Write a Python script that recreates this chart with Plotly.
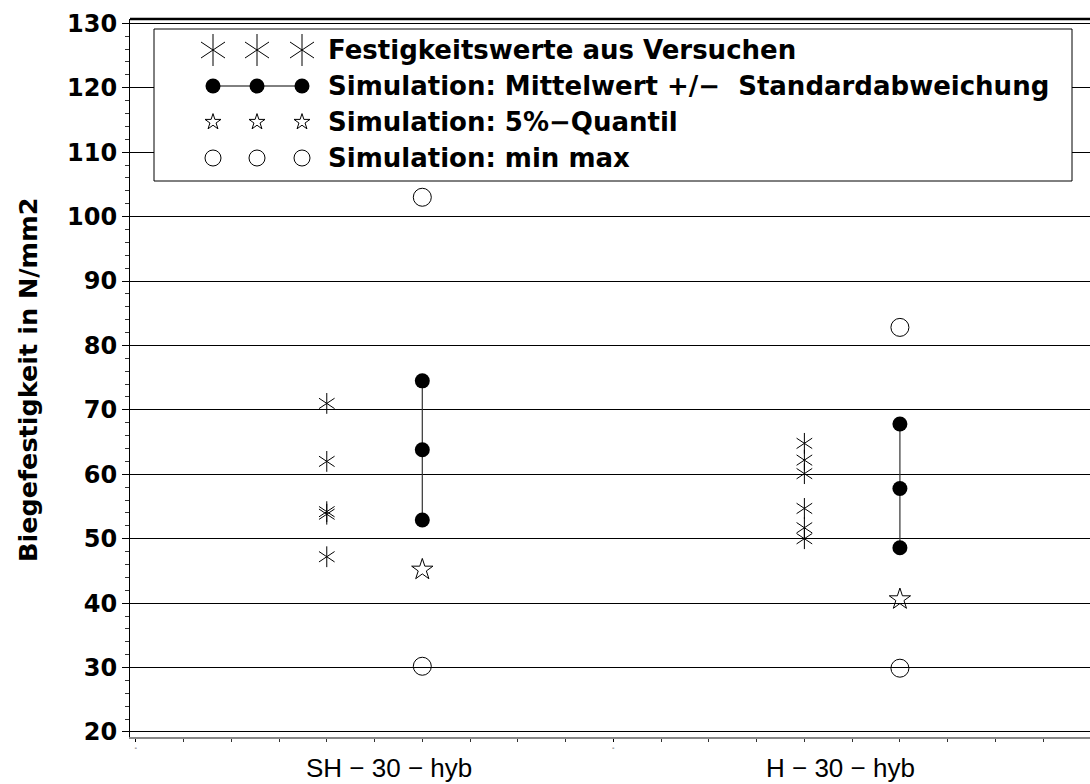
import plotly.graph_objects as go

# ---------------- data ----------------
categories = ["SH \u2212 30 \u2212 hyb", "H \u2212 30 \u2212 hyb"]
category_label_x = [0.53, 1.475]
exp_x = [0.4, 1.4]
sim_x = [0.6, 1.6]
exp_values = [
    [71.0, 62.0, 54.2, 53.8, 47.2],
    [64.8, 62.2, 60.1, 54.7, 51.7, 50.0],
]
sim_upper = [74.5, 67.8]
sim_mean = [63.8, 57.8]
sim_lower = [52.9, 48.6]
sim_q05 = [45.2, 40.6]
sim_min = [30.2, 29.9]
sim_max = [103.0, 82.8]
y_ticks = list(range(20, 131, 10))
legend_labels = [
    "Festigkeitswerte aus Versuchen",
    "Simulation: Mittelwert +/\u2212  Standardabweichung",
    "Simulation: 5%\u2212Quantil",
    "Simulation: min max",
]
y_title = "Biegefestigkeit in N/mm2"

# ---------------- layout constants ----------------
W, H = 1090, 784
L, R, T, B = 130, 0, 19, 47
PLOT_BOTTOM = H - B
BOLD = dict(family="DejaVu Sans", color="black", weight="bold")


def paper_x(px):
    return (px - L) / (W - L - R)


def paper_y(py):
    return (PLOT_BOTTOM - py) / (PLOT_BOTTOM - T)


fig = go.Figure()

# experimental values: six-ray asterisk from two marker symbols
ex, ey = [], []
for xv, vals in zip(exp_x, exp_values):
    for v in vals:
        ex.append(xv)
        ey.append(v)
for sym in ["y-up-open", "y-down-open"]:
    fig.add_trace(go.Scatter(
        x=ex, y=ey, mode="markers",
        marker=dict(symbol=sym, size=13, color="black", line=dict(color="black", width=1)),
    ))

# mean +/- sd
lx, ly = [], []
for i, xv in enumerate(sim_x):
    lx += [xv, xv, xv, None]
    ly += [sim_upper[i], sim_mean[i], sim_lower[i], None]
fig.add_trace(go.Scatter(
    x=lx, y=ly, mode="lines+markers",
    line=dict(color="#333333", width=1.2),
    marker=dict(symbol="circle", size=15, color="black"),
))

# 5% quantile
fig.add_trace(go.Scatter(
    x=sim_x, y=sim_q05, mode="markers",
    marker=dict(symbol="star-open", size=16, color="black", line=dict(color="black", width=1)),
))

# min / max
fig.add_trace(go.Scatter(
    x=sim_x + sim_x, y=sim_min + sim_max, mode="markers",
    marker=dict(symbol="circle-open", size=18, color="black", line=dict(color="black", width=1)),
))

# ---------------- custom legend on a pixel overlay ----------------
box_l, box_r, box_t, box_b = 154, 1072, 29, 181
rows = [50, 86, 122, 158]
sym_x = [213, 257, 302]
text_x = 326

fig.add_trace(go.Scatter(
    x=[box_l, box_r, box_r, box_l, box_l], y=[box_t, box_t, box_b, box_b, box_t],
    mode="lines", fill="toself", fillcolor="white",
    line=dict(color="black", width=1), xaxis="x2", yaxis="y2",
))
for sym in ["y-up-open", "y-down-open"]:
    fig.add_trace(go.Scatter(
        x=sym_x, y=[rows[0]] * 3, mode="markers", xaxis="x2", yaxis="y2",
        marker=dict(symbol=sym, size=20, color="black", line=dict(color="black", width=1)),
    ))
fig.add_trace(go.Scatter(
    x=sym_x, y=[rows[1]] * 3, mode="lines+markers", xaxis="x2", yaxis="y2",
    line=dict(color="black", width=1),
    marker=dict(symbol="circle", size=15, color="black"),
))
fig.add_trace(go.Scatter(
    x=sym_x, y=[rows[2]] * 3, mode="markers", xaxis="x2", yaxis="y2",
    marker=dict(symbol="star-open", size=12, color="black", line=dict(color="black", width=1)),
))
fig.add_trace(go.Scatter(
    x=sym_x, y=[rows[3]] * 3, mode="markers", xaxis="x2", yaxis="y2",
    marker=dict(symbol="circle-open", size=16, color="black", line=dict(color="black", width=1)),
))

annotations = []
for row, label in zip(rows, legend_labels):
    annotations.append(dict(
        x=paper_x(text_x), y=paper_y(row), xref="paper", yref="paper",
        xanchor="left", yanchor="middle", showarrow=False, text=label,
        font=dict(size=26, **BOLD),
    ))
# y title
annotations.append(dict(
    x=paper_x(28), y=paper_y(380), xref="paper", yref="paper",
    xanchor="center", yanchor="middle", showarrow=False, text=y_title,
    textangle=-90, font=dict(size=25.5, **BOLD),
))
# category labels
for cx, lab in zip(category_label_x, categories):
    annotations.append(dict(
        x=cx, y=paper_y(768), xref="x", yref="paper",
        xanchor="center", yanchor="middle", showarrow=False, text=lab,
        font=dict(size=26, family="Liberation Sans", color="black"),
    ))

fig.update_layout(
    width=W, height=H,
    margin=dict(l=L, r=R, t=T, b=B, pad=0),
    paper_bgcolor="white", plot_bgcolor="white",
    showlegend=False, hovermode=False,
    annotations=annotations,
    shapes=[dict(type="line", xref="paper", yref="paper", x0=0, x1=1, y0=1, y1=1,
                 line=dict(color="black", width=2.5), layer="above")],
    xaxis=dict(
        range=[-0.012, 1.998], showgrid=False, zeroline=False,
        showline=True, linecolor="#888888", linewidth=1.5,
        tickmode="array", tickvals=[0, 1, 2], ticktext=["-", "-", "-"],
        ticks="outside", ticklen=3, tickcolor="black", tickwidth=1,
        tickfont=dict(size=7, color="black", family="DejaVu Sans"),
        minor=dict(dtick=0.1, ticks="outside", ticklen=3, tickcolor="#333333", showgrid=False),
        fixedrange=True,
    ),
    yaxis=dict(
        range=[19.22, 130.67], showgrid=True, gridcolor="black", gridwidth=1,
        zeroline=False, showline=True, linecolor="black", linewidth=1,
        tickmode="array", tickvals=y_ticks, ticks="outside", ticklen=7,
        tickcolor="black", tickwidth=1,
        tickfont=dict(size=24, **BOLD),
        minor=dict(dtick=2, ticks="outside", ticklen=4, tickcolor="#333333", showgrid=False),
        fixedrange=True,
    ),
    xaxis2=dict(range=[L, W - R], overlaying="x", visible=False, fixedrange=True),
    yaxis2=dict(range=[PLOT_BOTTOM, T], overlaying="y", visible=False, fixedrange=True),
)

fig.write_html("out.html")
